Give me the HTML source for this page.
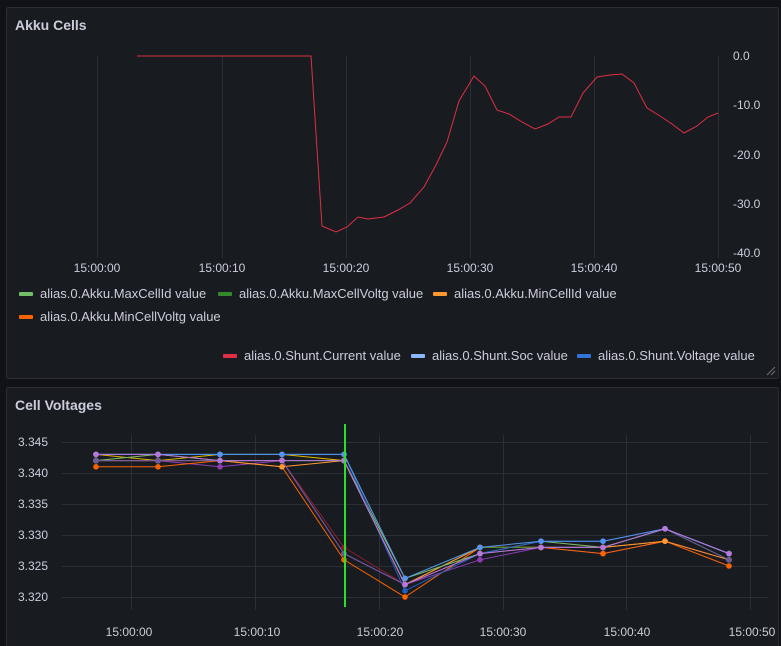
<!DOCTYPE html>
<html><head><meta charset="utf-8"><style>
body{margin:0;background:#111217;width:781px;height:646px;overflow:hidden;font-family:"Liberation Sans",sans-serif}
svg{position:absolute;left:0;top:0}
text{font-family:"Liberation Sans",sans-serif}
</style></head><body>
<svg width="781" height="646" viewBox="0 0 781 646">
<rect x="0" y="0" width="781" height="646" fill="#111217"/>
<rect x="6.5" y="7.5" width="772" height="371" rx="2" fill="#181b1f" stroke="#2b2e34"/>
<rect x="6.5" y="387.5" width="772" height="270" rx="2" fill="#181b1f" stroke="#2b2e34"/>
<text x="15" y="30" fill="#ccccdc" font-size="14" font-weight="bold">Akku Cells</text>
<text x="15" y="410" fill="#ccccdc" font-size="14" font-weight="bold">Cell Voltages</text>
<g stroke="#2c2f35" stroke-width="1">
<line x1="97.5" y1="56" x2="97.5" y2="258"/><line x1="222.5" y1="56" x2="222.5" y2="258"/><line x1="346.5" y1="56" x2="346.5" y2="258"/><line x1="470.5" y1="56" x2="470.5" y2="258"/><line x1="594.5" y1="56" x2="594.5" y2="258"/><line x1="718.5" y1="56" x2="718.5" y2="258"/>
</g>
<g fill="#ccccdc" font-size="12">
<text x="733" y="60">0.0</text><text x="733" y="109">-10.0</text><text x="733" y="159">-20.0</text><text x="733" y="208">-30.0</text><text x="733" y="257">-40.0</text>
<g text-anchor="middle"><text x="97" y="272">15:00:00</text><text x="222" y="272">15:00:10</text><text x="346" y="272">15:00:20</text><text x="470" y="272">15:00:30</text><text x="594" y="272">15:00:40</text><text x="718" y="272">15:00:50</text></g>
</g>
<polyline fill="none" stroke="#e02f44" stroke-width="1" points="137,56 311,56 322,226 336,232 347,227 358,217 368,219 384,217 398,210 410,203 424,187 436,165 447,142 459,101 474,76 485,86 497,110 509,114 522,122 535,129 548,124 559,117 571,117 583,93 597,77 610,75 622,74 634,83 647,108 660,116 672,124 684,133 697,126 708,117 718,113"/>
<g font-size="13" fill="#ccccdc">
<rect x="19" y="292" width="14" height="4" rx="1" fill="#73bf69"/><text x="40" y="298">alias.0.Akku.MaxCellId value</text>
<rect x="218" y="292" width="14" height="4" rx="1" fill="#37872d"/><text x="239" y="298">alias.0.Akku.MaxCellVoltg value</text>
<rect x="433" y="292" width="14" height="4" rx="1" fill="#ff9830"/><text x="454" y="298">alias.0.Akku.MinCellId value</text>
<rect x="19" y="315" width="14" height="4" rx="1" fill="#fa6400"/><text x="40" y="321">alias.0.Akku.MinCellVoltg value</text>
<rect x="223" y="354" width="14" height="4" rx="1" fill="#e02f44"/><text x="244" y="360">alias.0.Shunt.Current value</text>
<rect x="411" y="354" width="14" height="4" rx="1" fill="#8ab8ff"/><text x="432" y="360">alias.0.Shunt.Soc value</text>
<rect x="577" y="354" width="14" height="4" rx="1" fill="#3274d9"/><text x="598" y="360">alias.0.Shunt.Voltage value</text>
</g>
<g stroke="#6e7079" stroke-width="1"><line x1="767" y1="375" x2="775" y2="367"/><line x1="771" y1="375" x2="775" y2="371"/></g>
<g stroke="#2c2f35">
<line x1="62" y1="442.5" x2="768" y2="442.5"/><line x1="62" y1="473.5" x2="768" y2="473.5"/><line x1="62" y1="504.5" x2="768" y2="504.5"/><line x1="62" y1="535.5" x2="768" y2="535.5"/><line x1="62" y1="566.5" x2="768" y2="566.5"/><line x1="62" y1="597.5" x2="768" y2="597.5"/>
<line x1="131.5" y1="435" x2="131.5" y2="610"/><line x1="255.5" y1="435" x2="255.5" y2="610"/><line x1="379.5" y1="435" x2="379.5" y2="610"/><line x1="503.5" y1="435" x2="503.5" y2="610"/><line x1="626.5" y1="435" x2="626.5" y2="610"/><line x1="750.5" y1="435" x2="750.5" y2="610"/>
</g>
<g fill="#ccccdc" font-size="12">
<text x="18" y="446">3.345</text><text x="18" y="477">3.340</text><text x="18" y="508">3.335</text><text x="18" y="539">3.330</text><text x="18" y="570">3.325</text><text x="18" y="601">3.320</text>
<g text-anchor="middle"><text x="129" y="636">15:00:00</text><text x="257" y="636">15:00:10</text><text x="380" y="636">15:00:20</text><text x="503" y="636">15:00:30</text><text x="627" y="636">15:00:40</text><text x="752" y="636">15:00:50</text></g>
</g>
<g id="series"></g>
<line x1="345" y1="424" x2="345" y2="607" stroke="#2ae02a" stroke-width="2"/>
</svg>
<script>
var xs=[96,158,220,282,344,405,480,541,603,665,729];
var S=[
["#e0b400",[3.343,3.342,3.343,3.343,3.342,3.322,3.328,3.328,3.328,3.329,3.326]],
["#8f3bb8",[3.342,3.342,3.341,3.342,3.327,3.322,3.326,3.328,3.327,3.329,3.326]],
["#8e1e2e",[3.342,3.343,3.342,3.342,3.328,3.322,3.327,3.329,3.328,3.329,3.326]],
["#fa6400",[3.341,3.341,3.342,3.341,3.326,3.320,3.328,3.328,3.327,3.329,3.325]],
["#ff9830",[3.342,3.342,3.342,3.341,3.342,3.322,3.328,3.328,3.328,3.329,3.326]],
["#37872d",[3.343,3.343,3.343,3.343,3.343,3.323,3.328,3.328,3.328,3.331,3.326]],
["#73bf69",[3.342,3.343,3.342,3.342,3.342,3.323,3.327,3.329,3.328,3.331,3.327]],
["#1f60c4",[3.343,3.343,3.343,3.343,3.343,3.321,3.327,3.329,3.329,3.331,3.327]],
["#6d5a9e",[3.342,3.342,3.342,3.342,3.327,3.322,3.327,3.328,3.328,3.331,3.326]],
["#5794f2",[3.343,3.343,3.343,3.343,3.343,3.323,3.328,3.329,3.329,3.331,3.327]],
["#b877d9",[3.343,3.343,3.342,3.342,3.342,3.322,3.327,3.328,3.328,3.331,3.327]]
];
var g=document.getElementById('series'),h='';
S.forEach(function(s){var p=s[1].map(function(v,i){return xs[i]+','+(442+(3.345-v)*6200).toFixed(1)});
h+='<polyline fill="none" stroke="'+s[0]+'" stroke-width="1" points="'+p.join(' ')+'"/>';
p.forEach(function(q){var a=q.split(',');h+='<circle cx="'+a[0]+'" cy="'+a[1]+'" r="2.8" fill="'+s[0]+'"/>';});});
g.innerHTML=h;
</script>
</body></html>
